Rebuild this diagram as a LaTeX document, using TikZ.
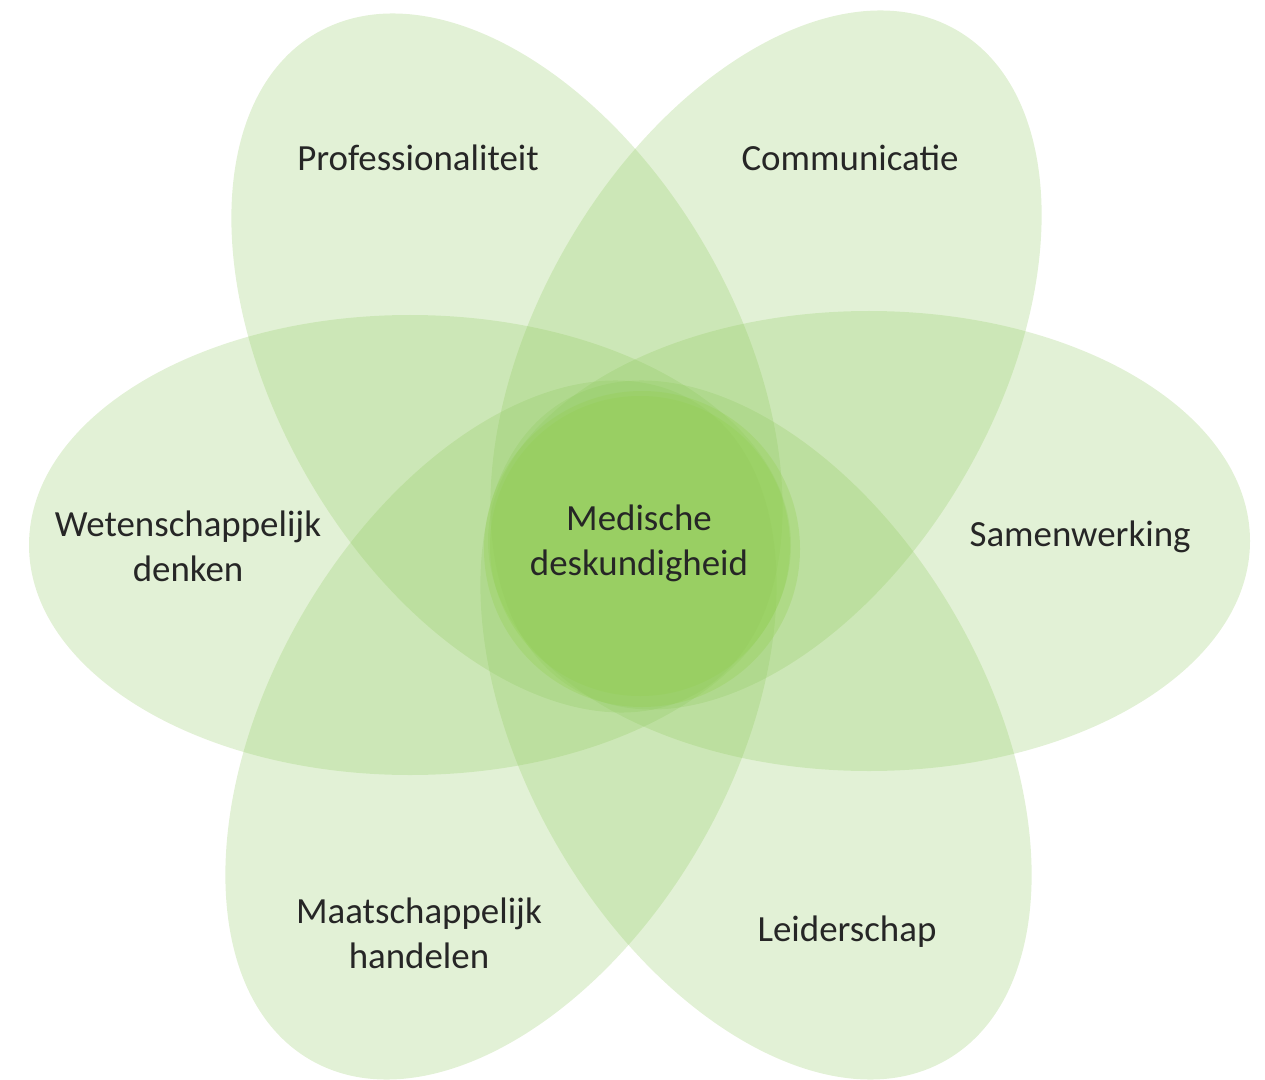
\documentclass[tikz,border=0pt]{standalone}
\usepackage{fontspec}
\setmainfont{Carlito}
\definecolor{petalgreen}{RGB}{140,200,90}
\definecolor{coregreen}{RGB}{146,208,80}
\definecolor{labeltext}{RGB}{38,38,38}

\begin{document}
\begin{tikzpicture}[
  petal/.style={fill=petalgreen,fill opacity=0.25},
  core/.style={fill=coregreen,fill opacity=0.3},
  lbl/.style={align=center,text=labeltext,font=\fontsize{10.5}{12.8}\selectfont}]
\useasboundingbox (0,0) rectangle (12.65,10.79);
\coordinate (L) at (4.10,5.34);
\coordinate (R) at (8.69,5.38);
\coordinate (TL) at (5.07,7.16);
\coordinate (TR) at (7.66,7.19);
\coordinate (BL) at (5.01,3.49);
\coordinate (BR) at (7.56,3.49);
% petals
\fill[petal] (L) ellipse [x radius=3.81cm, y radius=2.30cm];
\fill[petal] (R) ellipse [x radius=3.81cm, y radius=2.30cm];
\fill[petal,rotate around={120:(TL)}] (TL) ellipse [x radius=3.81cm, y radius=2.30cm];
\fill[petal,rotate around={60:(TR)}] (TR) ellipse [x radius=3.81cm, y radius=2.30cm];
\fill[petal,rotate around={60:(BL)}] (BL) ellipse [x radius=3.81cm, y radius=2.30cm];
\fill[petal,rotate around={120:(BR)}] (BR) ellipse [x radius=3.81cm, y radius=2.30cm];
% heart
\fill[core] (6.42,5.30) circle [radius=1.58cm];
\fill[core] (6.40,5.33) circle [radius=1.50cm];
% labels
\node[lbl] (prof) at (4.18,9.21) {Professionaliteit};
\node[lbl] (comm) at (8.50,9.21) {Communicatie};
\node[lbl] (wet) at (1.88,5.33) {Wetenschappelijk\\denken};
\node[lbl] (med) at (6.39,5.36) {Medische\\deskundigheid};
\node[lbl] (sam) at (10.80,5.42) {Samenwerking};
\node[lbl] (maat) at (4.19,1.46) {Maatschappelijk\\handelen};
\node[lbl] (leid) at (8.47,1.47) {Leiderschap};
\end{tikzpicture}
\end{document}
